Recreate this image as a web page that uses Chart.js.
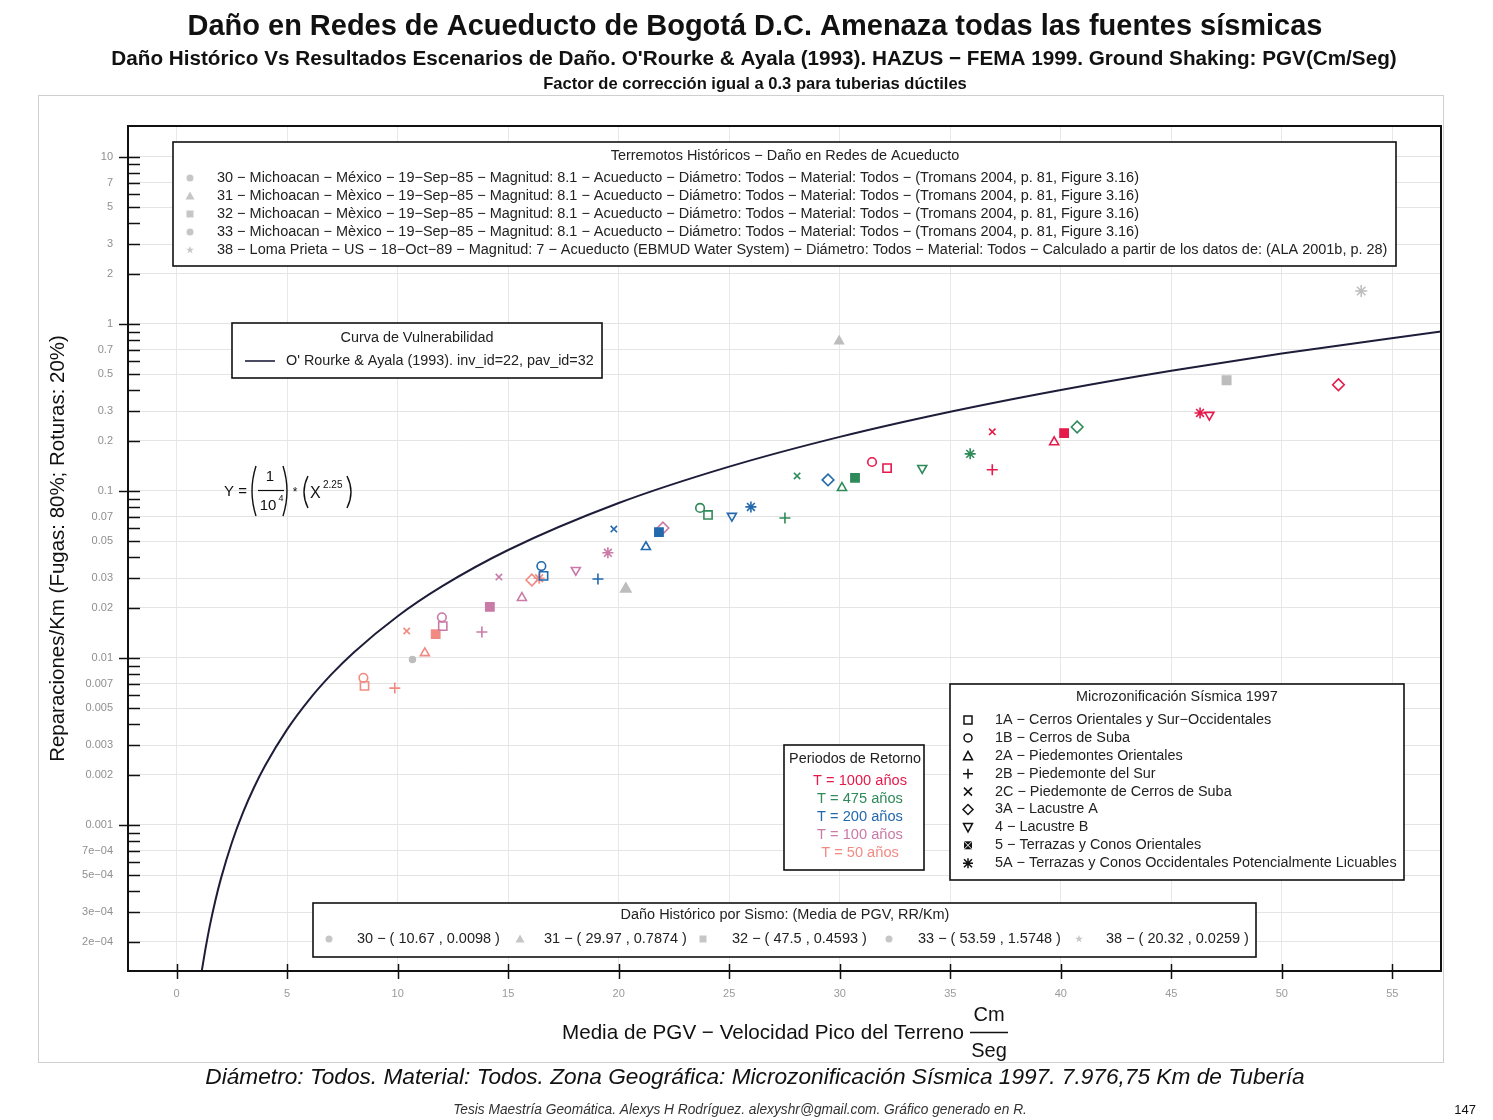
<!DOCTYPE html>
<html><head><meta charset="utf-8">
<script src="https://cdn.jsdelivr.net/npm/chart.js@4.4.1/dist/chart.umd.min.js"></script>
<style>html,body{margin:0;padding:0;background:#fff;}canvas{display:block;}</style>
</head><body>
<canvas id="c" width="1493" height="1120"></canvas>
<script>
// ---------------- DATA ----------------
const zones = ['1A','1B','2A','2B','2C','3A','4','5','5A'];
const zoneNames = [
 '1A \u2212 Cerros Orientales y Sur\u2212Occidentales',
 '1B \u2212 Cerros de Suba',
 '2A \u2212 Piedemontes Orientales',
 '2B \u2212 Piedemonte del Sur',
 '2C \u2212 Piedemonte de Cerros de Suba',
 '3A \u2212 Lacustre A',
 '4 \u2212 Lacustre B',
 '5 \u2212 Terrazas y Conos Orientales',
 '5A \u2212 Terrazas y Conos Occidentales Potencialmente Licuables'];
const periodLabels = ['T = 1000 a\u00f1os','T = 475 a\u00f1os','T = 200 a\u00f1os','T = 100 a\u00f1os','T = 50 a\u00f1os'];
// zone order: 1A 1B 2A 2B 2C 3A 4 5 5A
const pgv1000 = [32.14, 31.46, 39.70, 36.90, 36.90, 52.56, 46.72, 40.15, 46.30];
const rr1000  = [0.137, 0.149, 0.196, 0.134, 0.226, 0.432, 0.285, 0.222, 0.293];
const pgv475  = [24.04, 23.68, 30.10, 27.52, 28.07, 40.74, 33.73, 30.69, 35.90];
const rr475   = [0.0718, 0.0791, 0.1043, 0.0689, 0.123, 0.2415, 0.137, 0.1197, 0.1667];
const pgv200  = [16.60, 16.50, 21.23, 19.06, 19.78, 29.47, 25.12, 21.82, 25.98];
const rr200   = [0.0310, 0.0355, 0.0462, 0.0297, 0.0591, 0.1164, 0.0708, 0.0567, 0.0802];
const pgv100  = [12.04, 12.00, 15.62, 13.81, 14.58, 22.00, 18.06, 14.17, 19.51];
const rr100   = [0.0155, 0.0175, 0.0229, 0.0143, 0.0305, 0.0600, 0.0336, 0.0202, 0.0426];
const pgv50   = [8.50, 8.45, 11.23, 9.87, 10.41, 16.07, null, 11.72, 16.40];
const rr50    = [0.0068, 0.0076, 0.0107, 0.0066, 0.0145, 0.0293, null, 0.0139, 0.0300];

const histIds = ['30','31','32','33','38'];
const histPgv = [10.67, 29.97, 47.5, 53.59, 20.32];
const histRr  = [0.0098, 0.7874, 0.4593, 1.5748, 0.0259];
const histLegendText = [
 '30 \u2212 Michoacan \u2212 M\u00e9xico \u2212 19\u2212Sep\u221285 \u2212 Magnitud: 8.1 \u2212 Acueducto \u2212 Di\u00e1metro: Todos \u2212 Material: Todos \u2212 (Tromans 2004, p. 81, Figure 3.16)',
 '31 \u2212 Michoacan \u2212 M\u00e8xico \u2212 19\u2212Sep\u221285 \u2212 Magnitud: 8.1 \u2212 Acueducto \u2212 Di\u00e1metro: Todos \u2212 Material: Todos \u2212 (Tromans 2004, p. 81, Figure 3.16)',
 '32 \u2212 Michoacan \u2212 M\u00e8xico \u2212 19\u2212Sep\u221285 \u2212 Magnitud: 8.1 \u2212 Acueducto \u2212 Di\u00e1metro: Todos \u2212 Material: Todos \u2212 (Tromans 2004, p. 81, Figure 3.16)',
 '33 \u2212 Michoacan \u2212 M\u00e8xico \u2212 19\u2212Sep\u221285 \u2212 Magnitud: 8.1 \u2212 Acueducto \u2212 Di\u00e1metro: Todos \u2212 Material: Todos \u2212 (Tromans 2004, p. 81, Figure 3.16)',
 '38 \u2212 Loma Prieta \u2212 US \u2212 18\u2212Oct\u221289 \u2212 Magnitud: 7 \u2212 Acueducto (EBMUD Water System) \u2212 Di\u00e1metro: Todos \u2212 Material: Todos \u2212 Calculado a partir de los datos de: (ALA 2001b, p. 28)'];

// vulnerability curve
const curveX = [1.14, 1.3, 1.5, 1.75, 2, 2.5, 3, 3.5, 4, 5, 6, 7, 8, 10, 12, 15, 20, 25, 30, 35, 40, 45, 50, 57.2];
const curveY = [1.343e-4, 1.80e-4, 2.49e-4, 3.52e-4, 4.757e-4, 7.86e-4, 0.001185, 0.001676, 0.002263, 0.003738, 0.005636, 0.00797, 0.01076, 0.01778, 0.0268, 0.04428, 0.08459, 0.13975, 0.2107, 0.298, 0.4024, 0.5247, 0.6646, 0.900];

const xTickVals = [0,5,10,15,20,25,30,35,40,45,50,55];
const yLabeled = [10,7,5,3,2,1,0.7,0.5,0.3,0.2,0.1,0.07,0.05,0.03,0.02,0.01,0.007,0.005,0.003,0.002,0.001,0.0007,0.0005,0.0003,0.0002];
const yLabelText = ['10','7','5','3','2','1','0.7','0.5','0.3','0.2','0.1','0.07','0.05','0.03','0.02','0.01','0.007','0.005','0.003','0.002','0.001','7e\u221204','5e\u221204','3e\u221204','2e\u221204'];
const yMinor = [9,8,6,4,0.9,0.8,0.6,0.4,0.09,0.08,0.06,0.04,0.009,0.008,0.006,0.004,0.0009,0.0008,0.0006,0.0004];
const yDecades = [10,1,0.1,0.01,0.001];

// ---------------- STYLES ----------------
const FF = '"Liberation Sans", Arial, sans-serif';
const periodColors = ['#e5194a','#2f8a5a','#2269ad','#c97aa6','#f28a84'];
const zoneStyle = ['rect','circle','triangle','cross','crossRot','rectRot','triangle','rect','star'];
const zoneRot   = [0,0,0,0,0,0,180,0,0];
const zoneRad   = [5.8,4.3,5.2,5.5,4.5,5.8,5.2,5.8,5.5];
const histStyle = ['circle','triangle','rect','star','triangle'];
const histRad = [3,5,6,6,6];
const HIST_COL = '#bdbdbd';

const periodSets = [[pgv1000,rr1000],[pgv475,rr475],[pgv200,rr200],[pgv100,rr100],[pgv50,rr50]];

function near(a,b){return Math.abs(a/b-1)<1e-6;}
function labIdx(v){for(let i=0;i<yLabeled.length;i++){if(near(v,yLabeled[i]))return i;}return -1;}

const datasets = [];
datasets.push({
  label:'curve', data: curveX.map((x,i)=>({x:x,y:curveY[i]})),
  showLine:true, borderColor:'#1d1d3a', borderWidth:2, pointRadius:0,
  cubicInterpolationMode:'monotone', order:10
});
datasets.push({
  label:'hist', data: histPgv.map((x,i)=>({x:x,y:histRr[i],z:i})),
  showLine:false,
  pointStyle: c=> c.raw ? histStyle[c.raw.z] : 'circle',
  pointRadius: c=> c.raw ? histRad[c.raw.z] : 4,
  pointBackgroundColor: HIST_COL, pointBorderColor: HIST_COL, pointBorderWidth:1.5, order:9
});
periodSets.forEach((ps,pi)=>{
  const col = periodColors[pi];
  const pts = [];
  ps[0].forEach((x,i)=>{ if(x!=null) pts.push({x:x,y:ps[1][i],z:i}); });
  datasets.push({
    label: periodLabels[pi], data: pts, showLine:false,
    pointStyle: c=> c.raw ? zoneStyle[c.raw.z] : 'circle',
    pointRotation: c=> c.raw ? zoneRot[c.raw.z] : 0,
    pointRadius: c=> c.raw ? zoneRad[c.raw.z] : 4,
    pointBorderColor: col,
    pointBackgroundColor: c=> (c.raw && c.raw.z===7) ? col : 'rgba(0,0,0,0)',
    pointBorderWidth:1.6, order: pi
  });
});

// ---------------- DRAW HELPERS ----------------
function fitFont(ctx, text, w, style){
  ctx.font = style+' 100px '+FF;
  return 100*w/ctx.measureText(text).width;
}
function fitText(ctx, text, x, y, w, style, align){
  const s = fitFont(ctx,text,w,style);
  ctx.font = style+' '+s+'px '+FF;
  ctx.textAlign = align||'left';
  ctx.fillText(text,x,y);
}
function marker(ctx, type, x, y, col, s){
  s = s||4.5;
  ctx.save(); ctx.strokeStyle=col; ctx.fillStyle=col; ctx.lineWidth=1.5;
  ctx.beginPath();
  if(type==='sq'){ctx.rect(x-s,y-s,2*s,2*s);ctx.stroke();}
  else if(type==='ci'){ctx.arc(x,y,s,0,Math.PI*2);ctx.stroke();}
  else if(type==='tri'){ctx.moveTo(x,y-s-0.5);ctx.lineTo(x+s+0.5,y+s);ctx.lineTo(x-s-0.5,y+s);ctx.closePath();ctx.stroke();}
  else if(type==='itri'){ctx.moveTo(x,y+s+0.5);ctx.lineTo(x+s+0.5,y-s);ctx.lineTo(x-s-0.5,y-s);ctx.closePath();ctx.stroke();}
  else if(type==='plus'){ctx.moveTo(x-s-1,y);ctx.lineTo(x+s+1,y);ctx.moveTo(x,y-s-1);ctx.lineTo(x,y+s+1);ctx.stroke();}
  else if(type==='x'){ctx.moveTo(x-s,y-s);ctx.lineTo(x+s,y+s);ctx.moveTo(x+s,y-s);ctx.lineTo(x-s,y+s);ctx.stroke();}
  else if(type==='dia'){ctx.moveTo(x,y-s-1);ctx.lineTo(x+s+1,y);ctx.lineTo(x,y+s+1);ctx.lineTo(x-s-1,y);ctx.closePath();ctx.stroke();}
  else if(type==='sqx'){ctx.rect(x-s,y-s,2*s,2*s);ctx.fill();ctx.beginPath();ctx.strokeStyle='#fff';ctx.lineWidth=1;ctx.moveTo(x-s,y-s);ctx.lineTo(x+s,y+s);ctx.moveTo(x+s,y-s);ctx.lineTo(x-s,y+s);ctx.stroke();}
  else if(type==='ast'){ctx.moveTo(x-s-1,y);ctx.lineTo(x+s+1,y);ctx.moveTo(x,y-s-1);ctx.lineTo(x,y+s+1);ctx.moveTo(x-s,y-s);ctx.lineTo(x+s,y+s);ctx.moveTo(x+s,y-s);ctx.lineTo(x-s,y+s);ctx.stroke();}
  else if(type==='dot'){ctx.arc(x,y,s,0,Math.PI*2);ctx.fill();}
  else if(type==='star'){for(let k=0;k<10;k++){const r=k%2?s*0.45:s*1.2;const a=-Math.PI/2+k*Math.PI/5;const px=x+r*Math.cos(a),py=y+r*Math.sin(a);k?ctx.lineTo(px,py):ctx.moveTo(px,py);}ctx.closePath();ctx.fill();}
  else if(type==='fsq'){ctx.rect(x-s,y-s,2*s,2*s);ctx.fill();}
  else if(type==='ftri'){ctx.moveTo(x,y-s-1);ctx.lineTo(x+s+1,y+s);ctx.lineTo(x-s-1,y+s);ctx.closePath();ctx.fill();}
  ctx.restore();
}
function box(ctx,x,y,w,h){
  ctx.save();ctx.fillStyle='#fff';ctx.fillRect(x,y,w,h);
  ctx.strokeStyle='#111';ctx.lineWidth=1.6;ctx.strokeRect(x,y,w,h);ctx.restore();
}
function paren(ctx,x,y1,y2,left){
  // thin curved bracket
  const h=y2-y1, w=5;
  ctx.beginPath();
  if(left){ctx.moveTo(x+w,y1);ctx.quadraticCurveTo(x-w*0.6,(y1+y2)/2,x+w,y2);}
  else{ctx.moveTo(x-w,y1);ctx.quadraticCurveTo(x+w*0.6,(y1+y2)/2,x-w,y2);}
  ctx.stroke();
}

const decor = {
  id:'decor',
  beforeDraw(chart){
    const ctx=chart.ctx;
    ctx.save();ctx.fillStyle='#fff';ctx.fillRect(0,0,chart.width,chart.height);
    ctx.strokeStyle='#cfcfcf';ctx.lineWidth=1;ctx.strokeRect(38.5,95.5,1405,967);
    ctx.restore();
  },
  afterDatasetsDraw(chart){
    const ctx=chart.ctx, ca=chart.chartArea, xs=chart.scales.x, ys=chart.scales.y;
    ctx.save();
    ctx.textBaseline='middle';
    // plot border
    ctx.strokeStyle='#111';ctx.lineWidth=2;
    ctx.strokeRect(ca.left,ca.top,ca.right-ca.left,ca.bottom-ca.top);
    // y ticks
    ctx.lineWidth=1.5;ctx.beginPath();
    yLabeled.concat(yMinor).forEach(v=>{
      const py=Math.round(ys.getPixelForValue(v))+0.5;
      if(py<ca.top||py>ca.bottom) return;
      const dec=yDecades.some(d=>near(v,d));
      ctx.moveTo(dec?ca.left-9:ca.left,py);ctx.lineTo(ca.left+12,py);
    });
    ctx.stroke();
    // x ticks
    ctx.beginPath();
    xTickVals.forEach(v=>{const px=Math.round(xs.getPixelForValue(v))+0.5;ctx.moveTo(px,ca.bottom-7);ctx.lineTo(px,ca.bottom+8);});
    ctx.stroke();

    // ---- Legend 1: historical earthquakes
    box(ctx,173,142,1223,124);
    ctx.fillStyle='#222';
    fitText(ctx,'Terremotos Hist\u00f3ricos \u2212 Da\u00f1o en Redes de Acueducto',785,156,349,'','center');
    const s1=fitFont(ctx,histLegendText[4],1172,'');
    const hm=['dot','ftri','fsq','dot','star'];
    histLegendText.forEach((t,i)=>{
      const y=178+i*18;
      marker(ctx,hm[i],190,y,'#c6c6c6',3.5);
      ctx.fillStyle='#222';ctx.font=s1+'px '+FF;ctx.textAlign='left';ctx.fillText(t,217,y);
    });

    // ---- Legend 2: curve
    box(ctx,232,323,370,55);
    ctx.fillStyle='#222';
    fitText(ctx,'Curva de Vulnerabilidad',417,338,153,'','center');
    ctx.strokeStyle='#1d1d3a';ctx.lineWidth=1.6;ctx.beginPath();ctx.moveTo(245,361);ctx.lineTo(275,361);ctx.stroke();
    fitText(ctx,"O' Rourke & Ayala (1993). inv_id=22, pav_id=32",286,361,308,'','left');

    // ---- Equation
    ctx.fillStyle='#111';ctx.strokeStyle='#111';ctx.lineWidth=1.4;
    ctx.font='15px '+FF;ctx.textAlign='left';
    ctx.fillText('Y =',224,492);
    paren(ctx,251,466,516,true);paren(ctx,288,466,516,false);
    paren(ctx,303,476,508,true);paren(ctx,352,476,508,false);
    ctx.font='15px '+FF;ctx.textAlign='center';
    ctx.fillText('1',270,477);
    ctx.fillText('10',268,506);
    ctx.font='9px '+FF;ctx.fillText('4',281,499);
    ctx.lineWidth=1.2;ctx.beginPath();ctx.moveTo(258,490.5);ctx.lineTo(284,490.5);ctx.stroke();
    ctx.font='12px '+FF;ctx.fillText('*',295,493);
    ctx.font='16px '+FF;ctx.textAlign='left';ctx.fillText('X',310,494);
    ctx.font='10px '+FF;ctx.fillText('2.25',323,485);

    // ---- Legend 3: return periods
    box(ctx,784,745,140,125);
    ctx.fillStyle='#222';
    fitText(ctx,'Periodos de Retorno',855,759,132,'','center');
    const s3=fitFont(ctx,periodLabels[0],94,'');
    periodLabels.forEach((t,i)=>{
      ctx.fillStyle=periodColors[i];ctx.font=s3+'px '+FF;ctx.textAlign='center';ctx.fillText(t,860,781+i*18);
    });

    // ---- Legend 4: zones
    box(ctx,950,684,454,196);
    ctx.fillStyle='#222';
    fitText(ctx,'Microzonificaci\u00f3n S\u00edsmica 1997',1177,697,202,'','center');
    const s4=fitFont(ctx,zoneNames[8],402,'');
    const zm=['sq','ci','tri','plus','x','dia','itri','sqx','ast'];
    zoneNames.forEach((t,i)=>{
      const y=720+i*17.9;
      marker(ctx,zm[i],968,y,'#111',4);
      ctx.fillStyle='#222';ctx.font=s4+'px '+FF;ctx.textAlign='left';ctx.fillText(t,995,y);
    });

    // ---- Legend 5: historical values
    box(ctx,313,903,943,54);
    ctx.fillStyle='#222';
    fitText(ctx,'Da\u00f1o Hist\u00f3rico por Sismo: (Media de PGV, RR/Km)',785,915,329,'','center');
    const hx=[329,520,703,889,1079], tx=[357,544,732,918,1106];
    const s5=fitFont(ctx,'38 \u2212 ( '+histPgv[4]+' , '+histRr[4]+' )',143,'');
    histIds.forEach((id,i)=>{
      marker(ctx,hm[i],hx[i],939,'#c6c6c6',3.5);
      ctx.fillStyle='#222';ctx.font=s5+'px '+FF;ctx.textAlign='left';
      ctx.fillText(id+' \u2212 ( '+histPgv[i]+' , '+histRr[i]+' )',tx[i],939);
    });
    ctx.restore();
  },
  afterDraw(chart){
    const ctx=chart.ctx;
    ctx.save();ctx.textBaseline='middle';ctx.fillStyle='#111';
    fitText(ctx,'Da\u00f1o en Redes de Acueducto de Bogot\u00e1 D.C. Amenaza todas las fuentes s\u00edsmicas',755,27,1135,'bold','center');
    fitText(ctx,"Da\u00f1o Hist\u00f3rico Vs Resultados Escenarios de Da\u00f1o. O'Rourke & Ayala (1993). HAZUS \u2212 FEMA 1999. Ground Shaking: PGV(Cm/Seg)",754,59,1286,'bold','center');
    fitText(ctx,'Factor de correcci\u00f3n igual a 0.3 para tuberias d\u00factiles',755,84,424,'bold','center');
    // y title
    ctx.save();ctx.translate(58,548.5);ctx.rotate(-Math.PI/2);
    fitText(ctx,'Reparaciones/Km (Fugas: 80%; Roturas: 20%)',0,0,427,'','center');
    ctx.restore();
    // x title
    fitText(ctx,'Media de PGV \u2212 Velocidad Pico del Terreno',562,1033,402,'','left');
    ctx.font='20px '+FF;ctx.textAlign='center';
    ctx.fillText('Cm',989,1015);ctx.fillText('Seg',989,1051);
    ctx.lineWidth=1.5;ctx.strokeStyle='#111';ctx.beginPath();ctx.moveTo(970,1032.5);ctx.lineTo(1008,1032.5);ctx.stroke();
    // bottom notes
    fitText(ctx,'Di\u00e1metro: Todos. Material: Todos. Zona Geogr\u00e1fica: Microzonificaci\u00f3n S\u00edsmica 1997. 7.976,75 Km de Tuber\u00eda',755,1078,1100,'italic','center');
    ctx.fillStyle='#333';
    fitText(ctx,'Tesis Maestr\u00eda Geom\u00e1tica. Alexys H Rodr\u00edguez. alexyshr@gmail.com. Gr\u00e1fico generado en R.',740,1110,574,'italic','center');
    ctx.fillStyle='#111';ctx.font='13px '+FF;ctx.textAlign='right';ctx.fillText('147',1476,1110);
    ctx.restore();
  }
};

new Chart(document.getElementById('c'),{
  type:'scatter',
  data:{datasets:datasets},
  options:{
    responsive:false, animation:false, devicePixelRatio:1,
    layout:{padding:{left:40,right:52,top:126,bottom:89}},
    plugins:{legend:{display:false},tooltip:{enabled:false},title:{display:false}},
    scales:{
      x:{type:'linear',min:-2.2,max:57.2,
        afterBuildTicks:s=>{s.ticks=xTickVals.map(v=>({value:v}));},
        afterFit:s=>{s.height=60;},
        grid:{color:'#e8e8e8',drawTicks:false,lineWidth:1},
        border:{display:false},
        ticks:{padding:16,color:'#9a9a9a',font:{family:FF,size:11},autoSkip:false,maxRotation:0,callback:v=>String(v)}},
      y:{type:'logarithmic',min:1.336e-4,max:15.3,
        afterBuildTicks:s=>{s.ticks=yLabeled.concat(yMinor).sort((a,b)=>a-b).map(v=>({value:v}));},
        afterFit:s=>{s.width=88;},
        grid:{color:c=>(c.tick&&labIdx(c.tick.value)>=0)?'#e4e4e4':'rgba(0,0,0,0)',drawTicks:false,lineWidth:1},
        border:{display:false},
        ticks:{padding:15,color:'#8f8f8f',font:{family:FF,size:11},autoSkip:false,
          callback:v=>{const i=labIdx(v);return i>=0?yLabelText[i]:'';}}}
    }
  },
  plugins:[decor]
});
</script>
</body></html>
